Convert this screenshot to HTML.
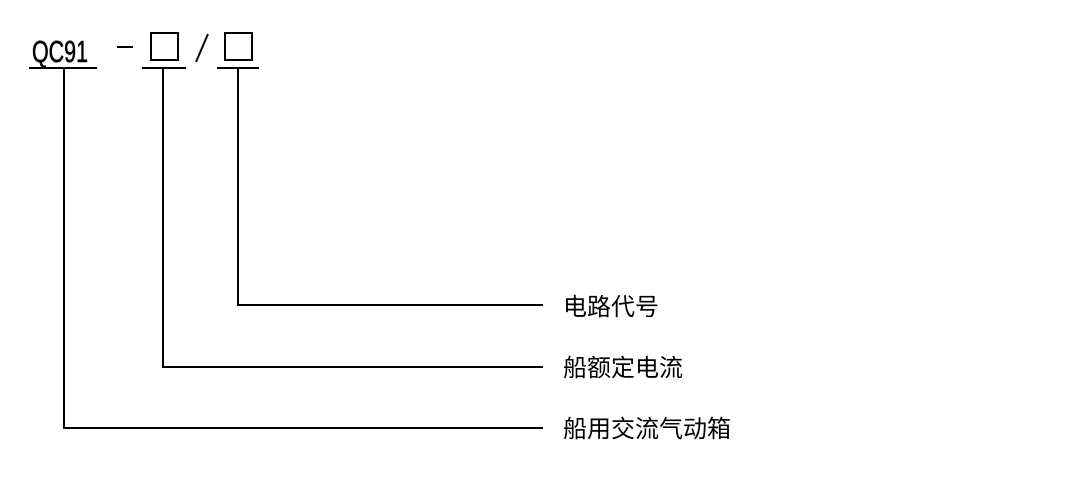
<!DOCTYPE html>
<html><head><meta charset="utf-8"><style>
html,body{margin:0;padding:0;background:#fff;width:1080px;height:478px;overflow:hidden}
</style></head><body>
<svg width="1080" height="478" viewBox="0 0 1080 478" xmlns="http://www.w3.org/2000/svg">
<g stroke="#000" stroke-width="2" fill="none">
<line x1="29" y1="68" x2="97" y2="68"/>
<line x1="142" y1="68" x2="186" y2="68"/>
<line x1="217" y1="68" x2="259" y2="68"/>
<rect x="151" y="33" width="27" height="27"/>
<rect x="225" y="33" width="27" height="27"/>
<line x1="117" y1="47" x2="133" y2="47"/>
<line x1="208" y1="34" x2="196" y2="62"/>
<polyline points="238,68 238,305 543,305"/>
<polyline points="163,68 163,367 543,367"/>
<polyline points="64,68 64,428 543,428"/>
</g>
<text x="32" y="62" font-family="Liberation Sans, sans-serif" font-size="31" stroke="#000" stroke-width="0.6" textLength="56" lengthAdjust="spacingAndGlyphs">QC91</text>
<g font-family="WenQuanYi Zen Hei, Noto Sans CJK SC, sans-serif" font-size="24" fill="#000">
<text x="563" y="315">电路代号</text>
<text x="563" y="376">船额定电流</text>
<text x="563" y="437">船用交流气动箱</text>
</g>
</svg>
</body></html>
